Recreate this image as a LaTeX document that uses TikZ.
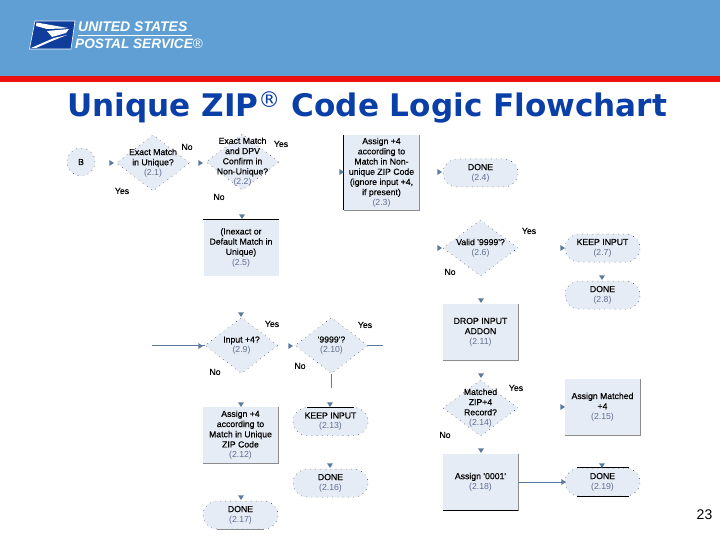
\documentclass[tikz,border=0pt]{standalone}
\usepackage{fontspec}
\setmainfont{Liberation Sans}
\newfontfamily\titlefont{DejaVu Sans}
\newfontfamily\lblfont[FakeBold=0.35]{Liberation Sans}
\usetikzlibrary{shapes.geometric,shapes.misc,arrows.meta}
\definecolor{hdr}{HTML}{5F9FD3}
\definecolor{redbar}{HTML}{EE1111}
\definecolor{ttl}{HTML}{0A3FA8}
\definecolor{boxfill}{HTML}{E6ECF5}
\definecolor{numc}{HTML}{5F6F90}
\definecolor{tipc}{HTML}{5B7A9E}
\definecolor{uspsblue}{HTML}{0F3D9C}
\newcommand{\lbl}[2]{#1\\\textcolor{numc}{\normalfont (#2)}}
\tikzset{
 x=1pt,y=-1pt,
 txt/.style={align=center,inner sep=0pt,text=black,font=\lblfont\fontsize{8.7}{10.2}\selectfont},
 base/.style={txt,fill=boxfill},
 dots/.style={draw=black!80,line width=0.5pt,dash pattern=on 0.6pt off 4.6pt},
 dia/.style={base,diamond,dots,minimum width=73pt,minimum height=56pt},
 term/.style={base,rounded rectangle,dots,minimum width=75pt,minimum height=28pt},
 rct/.style={base,rectangle,minimum width=75pt,minimum height=56pt},
 circ/.style={base,circle,dots,minimum size=28pt},
 tipm/.style={isosceles triangle,isosceles triangle apex angle=65,fill=tipc,inner sep=0pt,minimum height=4.6pt,minimum width=5.4pt,anchor=center},
 ans/.style={inner sep=0pt,font=\lblfont\fontsize{8.7}{10}\selectfont,text=black},
 conn/.style={draw=tipc,line width=0.55pt},
 shade edge/.style={black!45,line width=0.7pt},
 dark edge/.style={black,line width=0.65pt},
}
\begin{document}
\begin{tikzpicture}
\useasboundingbox (0,0) rectangle (720,540);
\fill[white] (0,0) rectangle (720,540);
\fill[hdr] (0,0) rectangle (720,76);
\fill[redbar] (0,76) rectangle (720,82);
% logo
\fill[uspsblue,draw=white,line width=0.6pt] (35,21) -- (75,21) -- (71,49) -- (29.5,49) -- cycle;
\fill[white] (36.5,22.5) -- (68,28) -- (62,28.5) -- (47,29) -- (36,26) -- cycle;
\fill[white] (47,31) -- (69,29) -- (66,33) -- (52,37) -- cycle;
\fill[white] (31,48) -- (54,38) -- (67,35) -- (52,41) -- (36,48) -- cycle;
\node[inner sep=0pt,anchor=base west,text=white,font=\fontsize{14}{14}\selectfont\bfseries\itshape] (usps1) at (78,32) {UNITED STATES};
\draw[white,line width=0.5pt] (78,35) -- (192,35);
\node[inner sep=0pt,anchor=base west,text=white,font=\fontsize{13.6}{14}\selectfont\bfseries\itshape] (usps2) at (75,48.5) {POSTAL SERVICE{\mdseries\upshape ®}};
% title
\node[inner sep=0pt,anchor=base west,text=ttl,font=\titlefont\fontsize{31.1}{32}\selectfont\bfseries] (title) at (67,116.5) {Unique ZIP\textsuperscript{\mdseries ®} Code Logic Flowchart};
\node[inner sep=0pt,font=\fontsize{14}{14}\selectfont] (pg) at (704.5,515) {23};
% nodes
\node[circ] (B) at (81,162) {B};
\node[dia,label={[txt]center:\lbl{Exact Match\\in Unique?}{2.1}}] (d21) at (153,163) {};
\node[dia,label={[txt]center:\lbl{Exact Match\\and DPV\\Confirm in\\Non-Unique?}{2.2}}] (d22) at (242.5,162) {};
\node[rct,minimum height=75pt] (r23) at (381.5,172.5) {\lbl{Assign +4\\according to\\Match in Non-\\unique ZIP Code\\(ignore input +4,\\if present)}{2.3}};
\node[term] (t24) at (480.5,173) {\lbl{DONE}{2.4}};
\node[rct] (r25) at (241,247.5) {\lbl{(Inexact or\\Default Match in\\Unique)}{2.5}};
\node[dia,minimum width=75pt,label={[txt]center:\lbl{Valid '9999'?}{2.6}}] (d26) at (480.5,248) {};
\node[term] (t27) at (602.5,248) {\lbl{KEEP INPUT}{2.7}};
\node[term] (t28) at (602.5,295) {\lbl{DONE}{2.8}};
\node[rct] (r211) at (480.5,332) {\lbl{DROP INPUT\\ADDON}{2.11}};
\node[dia,label={[txt]center:\lbl{Input +4?}{2.9}}] (d29) at (241.5,345.5) {};
\node[dia,label={[txt]center:\lbl{'9999'?}{2.10}}] (d210) at (331.5,345.5) {};
\node[dia,minimum width=75pt,label={[txt]center:\lbl{Matched\\ZIP+4\\Record?}{2.14}}] (d214) at (480.5,408) {};
\node[rct] (r215) at (602.5,407) {\lbl{Assign Matched\\+4}{2.15}};
\node[rct] (r212) at (240.5,435) {\lbl{Assign +4\\according to\\Match in Unique\\ZIP Code}{2.12}};
\node[term] (t213) at (330.5,421.5) {\lbl{KEEP INPUT}{2.13}};
\node[term] (t216) at (330.5,483) {\lbl{DONE}{2.16}};
\node[term] (t217) at (240.5,515) {\lbl{DONE}{2.17}};
\node[rct] (r218) at (480.5,482) {\lbl{Assign '0001'}{2.18}};
\node[term] (t219) at (602.5,482) {\lbl{DONE}{2.19}};
% box edges
\foreach \nn in {r23,r211,r215,r212,r218}{
 \draw[shade edge] (\nn.north east) -- (\nn.south east) -- (\nn.south west);
}
\draw[dark edge] (r23.north west) -- (r23.south west);
\draw[dark edge] (r25.north west) -- (r25.north east);
\draw[dark edge] (r218.south west) -- (r218.south east);
\draw[dark edge] (t213.north west) -- (t213.north east);
\draw[dark edge] ([xshift=-2pt]t219.north west) -- ([xshift=3pt]t219.north east);
\draw[dark edge] ([xshift=-2pt]t219.south west) -- ([xshift=3pt]t219.south east);
\draw[shade edge] (t217.south west) -- (t217.south east);
% connectors
\coordinate (in29) at (152,345.5);
\coordinate (out210) at (383,345.5);
\coordinate (down210) at (331.5,388);
\draw[conn] (in29) -- (d29.west);
\draw[conn] (d210.east) -- (out210);
\draw[conn] (d210.south) -- (down210);
\draw[conn] (r218.east) -- (t219.west);
% arrow tips
\node[tipm] (a1) at (111,163) {};
\node[tipm] (a2) at (200,163) {};
\node[tipm] (a3) at (341,172) {};
\node[tipm] (a4) at (439,172) {};
\node[tipm] (a5) at (439,248) {};
\node[tipm] (a6) at (562,248) {};
\node[tipm] (a7) at (200,346) {};
\node[tipm] (a8) at (290,346) {};
\node[tipm] (a9) at (562,407) {};
\node[tipm] (a10) at (563,482) {};
\foreach \nn/\xx/\yy in {b1/242/216,b2/602/277,b3/481/300,b4/241/314,b5/241/404,b6/330/404,b7/330/465,b8/241/497,b9/481/375,b10/481/450,b11/602/465}{
 \node[tipm,rotate=-90] (\nn) at (\xx,\yy) {};
}
% answers
\node[ans] (n1) at (187,147) {No};
\node[ans] (n2) at (281,144) {Yes};
\node[ans] (n3) at (122,191) {Yes};
\node[ans] (n4) at (219,197) {No};
\node[ans] (n5) at (529,231) {Yes};
\node[ans] (n6) at (450,272) {No};
\node[ans] (n7) at (272,324) {Yes};
\node[ans] (n8) at (365,325) {Yes};
\node[ans] (n9) at (215,372) {No};
\node[ans] (n10) at (300,366) {No};
\node[ans] (n11) at (516,388) {Yes};
\node[ans] (n12) at (445,435) {No};
\end{tikzpicture}
\end{document}
